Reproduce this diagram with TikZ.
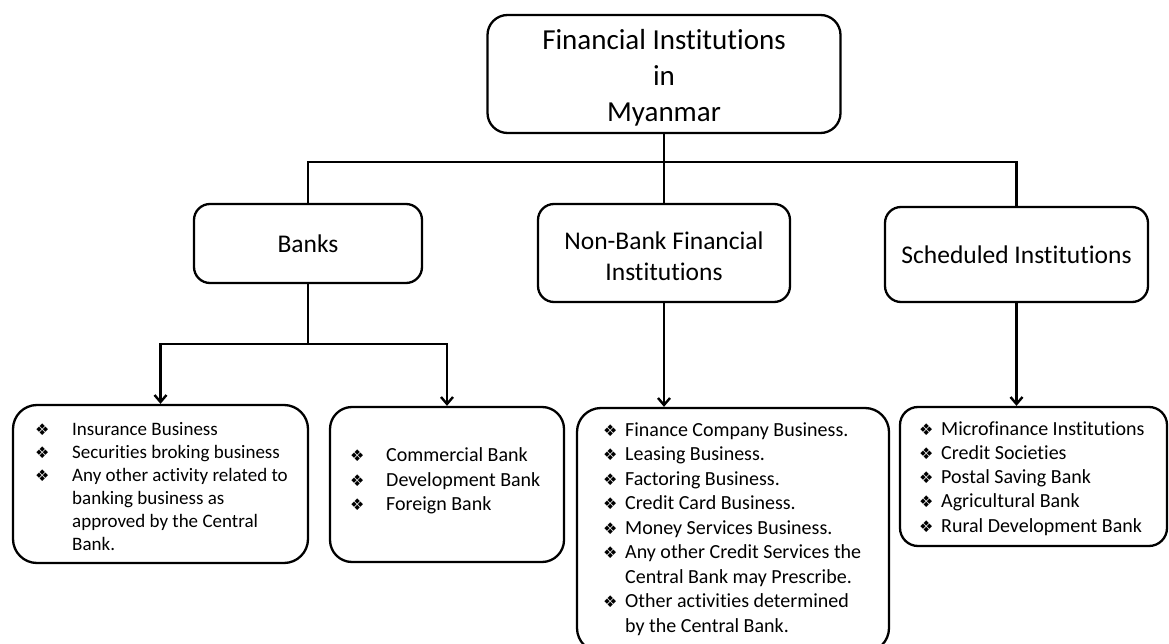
\documentclass[tikz,border=0pt]{standalone}
\usepackage{fontspec}
\setmainfont[Ligatures=NoCommon]{Carlito}
\newfontfamily\symfont{DejaVu Sans}
\usetikzlibrary{arrows.meta}

% list marker
\newcommand{\dmd}{{\symfont\fontsize{16}{16}\selectfont ❖}}

\begin{document}
\begin{tikzpicture}[x=1pt,y=-1pt,
  box/.style={draw, line width=2.3pt, rounded corners=#1, inner sep=0pt, align=center},
  box/.default=16pt,
  link/.style={line width=2.4pt},
  arrowlink/.style={link, -{Straight Barb[length=7pt,width=12pt]}},
  head/.style={font=\fontsize{29}{36}\selectfont},
  mid/.style={font=\fontsize{25.5}{31}\selectfont},
  list/.style={anchor=base west, inner sep=0pt, align=left}
]
\clip (0,0) rectangle (1169,644);

% top level
\node[box=20pt, minimum width=353pt, minimum height=118pt, head] (fi) at (664,74)
  {\rule{0pt}{28pt}Financial Institutions\\in\\Myanmar};

% second level
\node[box, minimum width=228pt, minimum height=79pt, mid] (banks) at (308,243.5) {Banks};
\node[box, minimum width=252pt, minimum height=98pt, mid] (nbfi) at (664,253)
  {\rule{0pt}{24pt}Non-Bank Financial\\Institutions};
\node[box, minimum width=263pt, minimum height=95pt, mid] (sched) at (1016.5,254.5)
  {Scheduled Institutions};

% detail boxes
\node[box=24pt, minimum width=295pt, minimum height=158pt] (b1) at (160.5,484) {};
\node[box=22pt, minimum width=234pt, minimum height=155pt] (b2) at (447,484.5) {};
\node[box=24pt, minimum width=312pt, minimum height=244pt] (b3) at (733,530) {};
\node[box=18pt, minimum width=267pt, minimum height=139pt] (b4) at (1033.5,476.5) {};

% detail lists
\node[list, font=\fontsize{19}{23}\selectfont] (l1) at (35,435) {%
  \begin{tabular}[t]{@{}p{37pt}@{}l@{}}
  \dmd & Insurance Business\\
  \dmd & Securities broking business\\
  \dmd & Any other activity related to\\
       & banking business as\\
       & approved by the Central\\
       & Bank.
  \end{tabular}};

\node[list, font=\fontsize{20}{24.3}\selectfont] (l2) at (350,461.7) {%
  \begin{tabular}[t]{@{}p{36pt}@{}l@{}}
  \dmd & Commercial Bank\\
  \dmd & Development Bank\\
  \dmd & Foreign Bank
  \end{tabular}};

\node[list, font=\fontsize{20}{24.5}\selectfont] (l3) at (603,436) {%
  \begin{tabular}[t]{@{}p{22pt}@{}l@{}}
  \dmd & Finance Company Business.\\
  \dmd & Leasing Business.\\
  \dmd & Factoring Business.\\
  \dmd & Credit Card Business.\\
  \dmd & Money Services Business.\\
  \dmd & Any other Credit Services the\\
       & Central Bank may Prescribe.\\
  \dmd & Other activities determined\\
       & by the Central Bank.
  \end{tabular}};

\node[list, font=\fontsize{20}{24.3}\selectfont] (l4) at (919,435) {%
  \begin{tabular}[t]{@{}p{22pt}@{}l@{}}
  \dmd & Microfinance Institutions\\
  \dmd & Credit Societies\\
  \dmd & Postal Saving Bank\\
  \dmd & Agricultural Bank\\
  \dmd & Rural Development Bank
  \end{tabular}};

% connectors
\coordinate (bus) at (664,162);
\coordinate (split) at (308,344);
\draw[link] (fi.south) -- (nbfi.north);
\draw[link] (banks.north) |- (bus) -| (sched.north);
\draw[arrowlink] (banks.south) -- (split) -| (b1.north);
\draw[arrowlink] (split) -| (b2.north);
\draw[arrowlink] (nbfi.south) -- (nbfi.south |- b3.north);
\draw[arrowlink] (sched.south) -- (sched.south |- b4.north);
\end{tikzpicture}
\end{document}
